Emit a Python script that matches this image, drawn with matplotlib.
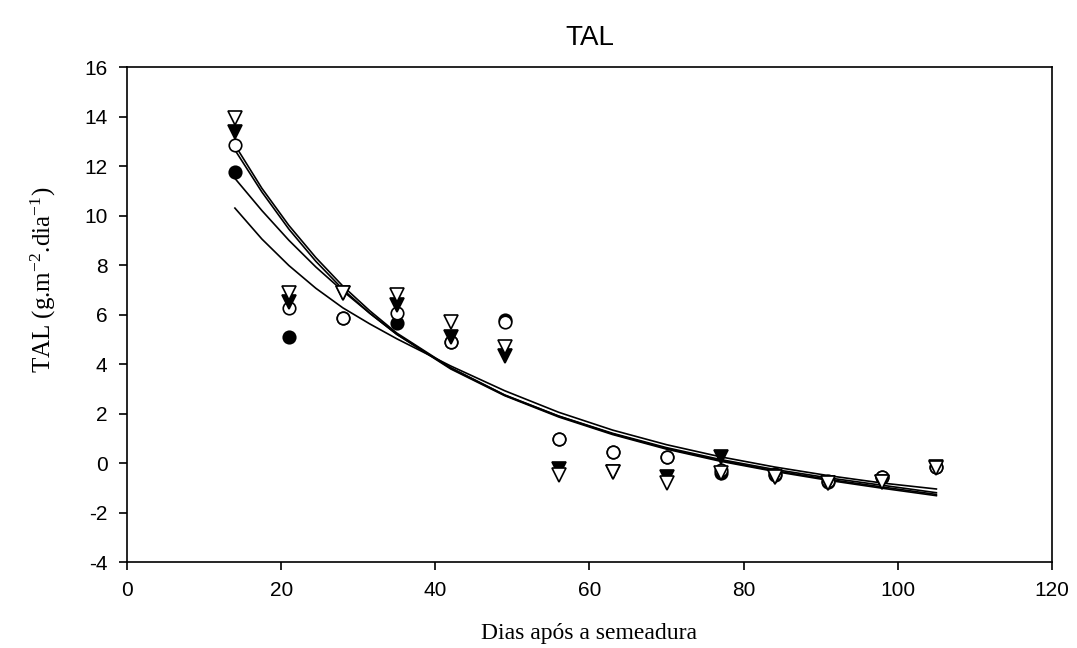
import matplotlib
matplotlib.use("Agg")
import matplotlib.pyplot as plt

plt.rcParams['axes.unicode_minus'] = False
plt.rcParams['mathtext.fontset'] = 'custom'
plt.rcParams['mathtext.rm'] = 'Liberation Serif'
plt.rcParams['mathtext.it'] = 'Liberation Serif'
plt.rcParams['mathtext.default'] = 'rm'

# sampling days (dias apos a semeadura)
days = [14, 21, 28, 35, 42, 49, 56, 63, 70, 77, 84, 91, 98, 105]

# TAL values per treatment
filled_circle = [11.77, 5.08, 5.85, 5.64, 4.90, 5.78, 0.96, 0.46, 0.25, -0.40, -0.48, -0.75, -0.58, -0.18]
open_circle = [12.85, 6.25, 5.85, 6.05, 4.90, 5.68, 0.96, 0.46, 0.25, -0.30, -0.45, -0.72, -0.55, -0.15]
filled_tri = [13.39, 6.52, 6.86, 6.38, 5.10, 4.32, -0.24, -0.35, -0.58, 0.25, -0.55, -0.80, -0.75, -0.15]
open_tri = [13.93, 6.86, 6.86, 6.79, 5.71, 4.70, -0.48, -0.35, -0.82, -0.40, -0.55, -0.82, -0.75, -0.20]

# fitted curves, read at these days
curve_days = [14, 17.5, 21, 24.5, 28, 31.5, 35, 42, 49, 56, 63, 70, 77, 84, 91, 98, 105]
curve_1 = [12.85, 11.1, 9.6, 8.3, 7.15, 6.15, 5.25, 3.85, 2.75, 1.9, 1.2, 0.62, 0.14, -0.26, -0.6, -0.9, -1.2]
curve_2 = [12.65, 10.95, 9.45, 8.15, 7.02, 6.05, 5.2, 3.83, 2.74, 1.89, 1.18, 0.59, 0.1, -0.31, -0.66, -0.97, -1.27]
curve_3 = [11.5, 10.2, 9.0, 7.92, 6.95, 6.05, 5.2, 3.8, 2.72, 1.86, 1.15, 0.56, 0.07, -0.34, -0.7, -1.02, -1.32]
curve_4 = [10.3, 9.05, 7.98, 7.06, 6.27, 5.62, 5.02, 3.92, 2.92, 2.05, 1.33, 0.74, 0.25, -0.16, -0.51, -0.81, -1.05]

x_ticks = [0, 20, 40, 60, 80, 100, 120]
y_ticks = [-4, -2, 0, 2, 4, 6, 8, 10, 12, 14, 16]

fig = plt.figure(figsize=(10.77, 6.48), dpi=100)
ax = fig.add_axes([0.1179, 0.1327, 0.8589, 0.7639])

# regression curves
for c in [curve_1, curve_2, curve_3, curve_4]:
    ax.plot(curve_days, c, color='black', linewidth=1.2, zorder=2)

# data points
ax.plot(days, filled_circle, linestyle='none', marker='o', markersize=9,
        markerfacecolor='black', markeredgecolor='black', markeredgewidth=1.2, zorder=3)
ax.plot(days, open_circle, linestyle='none', marker='o', markersize=9,
        markerfacecolor='white', markeredgecolor='black', markeredgewidth=1.2, zorder=4)
ax.plot(days, filled_tri, linestyle='none', marker='v', markersize=10,
        markerfacecolor='black', markeredgecolor='black', markeredgewidth=1.2, zorder=5)
ax.plot(days, open_tri, linestyle='none', marker='v', markersize=10,
        markerfacecolor='white', markeredgecolor='black', markeredgewidth=1.2, zorder=6)

ax.set_xlim(0, 120)
ax.set_ylim(-4, 16)
ax.set_xticks(x_ticks)
ax.set_yticks(y_ticks)
ax.tick_params(direction='out', length=6, width=1.2, labelsize=15, pad=8)
for lab in ax.get_xticklabels() + ax.get_yticklabels():
    lab.set_family('Liberation Sans')
for s in ax.spines.values():
    s.set_linewidth(1.2)

ax.set_title("TAL", fontsize=20, family='Liberation Sans', pad=16)
ax.set_xlabel("Dias após a semeadura", fontsize=17, family='Liberation Serif', labelpad=16)
ax.set_ylabel(r"TAL (g.m$^{-2}$.dia$^{-1}$)", fontsize=18, family='Liberation Serif')
ax.yaxis.set_label_coords(-0.075, 0.57)

fig.savefig("out.png", dpi=100)
